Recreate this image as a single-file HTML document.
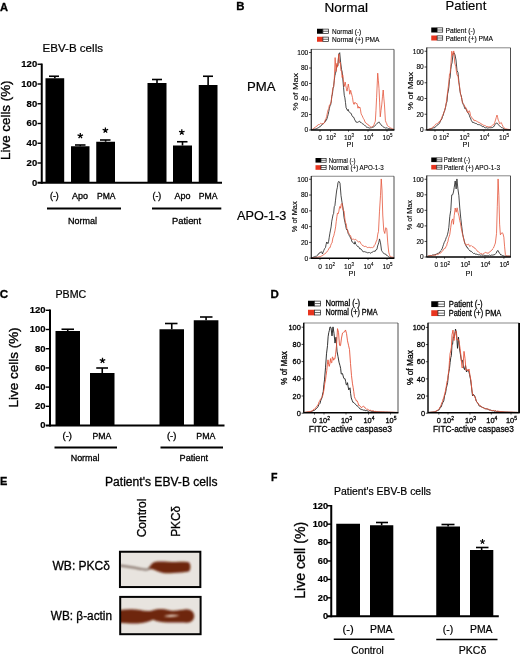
<!DOCTYPE html>
<html><head><meta charset="utf-8"><title>Figure</title>
<style>html,body{margin:0;padding:0;background:#fff;}svg{display:block;will-change:transform;}text{font-family:"Liberation Sans",sans-serif;}</style>
</head><body>
<svg width="520" height="656" viewBox="0 0 520 656">
<rect x="0" y="0" width="520" height="656" fill="#fff"/>
<text x="0" y="10.5" font-size="10.6" font-weight="bold" text-anchor="start" fill="#000" textLength="8" lengthAdjust="spacingAndGlyphs" stroke="#000" stroke-width="0.3">A</text>
<text x="236.2" y="10.2" font-size="11.4" font-weight="bold" text-anchor="start" fill="#000" stroke="#000" stroke-width="0.3">B</text>
<text x="-0.3" y="298" font-size="11.6" font-weight="bold" text-anchor="start" fill="#000" stroke="#000" stroke-width="0.3">C</text>
<text x="270.4" y="297.8" font-size="11.5" font-weight="bold" text-anchor="start" fill="#000" stroke="#000" stroke-width="0.3">D</text>
<text x="0" y="485" font-size="11" font-weight="bold" text-anchor="start" fill="#000" stroke="#000" stroke-width="0.3">E</text>
<text x="271" y="481.2" font-size="10.6" font-weight="bold" text-anchor="start" fill="#000" stroke="#000" stroke-width="0.3">F</text>
<text x="42.5" y="52" font-size="11.5" font-weight="normal" text-anchor="start" fill="#000" textLength="60.5" lengthAdjust="spacingAndGlyphs" stroke="#000" stroke-width="0.2">EBV-B cells</text>
<rect x="45.50" y="78.25" width="18.70" height="104.50" fill="#000"/>
<line x1="54.85" y1="76.25" x2="54.85" y2="78.25" stroke="#000" stroke-width="1.6"/>
<line x1="49.00" y1="76.25" x2="59.00" y2="76.25" stroke="#000" stroke-width="1.6"/>
<rect x="71.00" y="146.25" width="18.50" height="36.50" fill="#000"/>
<line x1="80.25" y1="145.00" x2="80.25" y2="146.25" stroke="#000" stroke-width="1.6"/>
<line x1="75.00" y1="145.00" x2="85.50" y2="145.00" stroke="#000" stroke-width="1.6"/>
<rect x="96.25" y="141.75" width="18.75" height="41.00" fill="#000"/>
<line x1="105.62" y1="140.00" x2="105.62" y2="141.75" stroke="#000" stroke-width="1.6"/>
<line x1="100.00" y1="140.00" x2="110.50" y2="140.00" stroke="#000" stroke-width="1.6"/>
<rect x="147.50" y="83.00" width="19.00" height="99.75" fill="#000"/>
<line x1="157.00" y1="79.50" x2="157.00" y2="83.00" stroke="#000" stroke-width="1.6"/>
<line x1="152.00" y1="79.50" x2="162.00" y2="79.50" stroke="#000" stroke-width="1.6"/>
<rect x="173.00" y="145.50" width="19.00" height="37.25" fill="#000"/>
<line x1="182.50" y1="141.75" x2="182.50" y2="145.50" stroke="#000" stroke-width="1.6"/>
<line x1="177.00" y1="141.75" x2="187.50" y2="141.75" stroke="#000" stroke-width="1.6"/>
<rect x="198.75" y="85.00" width="18.75" height="97.75" fill="#000"/>
<line x1="208.12" y1="76.25" x2="208.12" y2="85.00" stroke="#000" stroke-width="1.6"/>
<line x1="203.00" y1="76.25" x2="213.00" y2="76.25" stroke="#000" stroke-width="1.6"/>
<line x1="41.75" y1="63.55" x2="41.75" y2="183.75" stroke="#000" stroke-width="2"/>
<line x1="37.50" y1="182.75" x2="222.00" y2="182.75" stroke="#000" stroke-width="2"/>
<line x1="37.50" y1="163.00" x2="41.75" y2="163.00" stroke="#000" stroke-width="1.4"/>
<line x1="37.50" y1="143.25" x2="41.75" y2="143.25" stroke="#000" stroke-width="1.4"/>
<line x1="37.50" y1="123.50" x2="41.75" y2="123.50" stroke="#000" stroke-width="1.4"/>
<line x1="37.50" y1="103.75" x2="41.75" y2="103.75" stroke="#000" stroke-width="1.4"/>
<line x1="37.50" y1="84.00" x2="41.75" y2="84.00" stroke="#000" stroke-width="1.4"/>
<line x1="37.50" y1="64.25" x2="41.75" y2="64.25" stroke="#000" stroke-width="1.4"/>
<text x="37.2" y="185.67" font-size="9.5" font-weight="bold" text-anchor="end" fill="#000" stroke="#000" stroke-width="0.2">0</text>
<text x="37.2" y="165.92" font-size="9.5" font-weight="bold" text-anchor="end" fill="#000" stroke="#000" stroke-width="0.2">20</text>
<text x="37.2" y="146.17" font-size="9.5" font-weight="bold" text-anchor="end" fill="#000" stroke="#000" stroke-width="0.2">40</text>
<text x="37.2" y="126.42" font-size="9.5" font-weight="bold" text-anchor="end" fill="#000" stroke="#000" stroke-width="0.2">60</text>
<text x="37.2" y="106.67" font-size="9.5" font-weight="bold" text-anchor="end" fill="#000" stroke="#000" stroke-width="0.2">80</text>
<text x="37.2" y="86.92" font-size="9.5" font-weight="bold" text-anchor="end" fill="#000" stroke="#000" stroke-width="0.2">100</text>
<text x="37.2" y="67.17" font-size="9.5" font-weight="bold" text-anchor="end" fill="#000" stroke="#000" stroke-width="0.2">120</text>
<path d="M80.30 135.80L80.30 132.90M80.30 135.80L83.06 134.90M80.30 135.80L82.00 138.15M80.30 135.80L78.60 138.15M80.30 135.80L77.54 134.90" stroke="#000" stroke-width="1.25" fill="none"/>
<path d="M105.40 130.30L105.40 127.40M105.40 130.30L108.16 129.40M105.40 130.30L107.10 132.65M105.40 130.30L103.70 132.65M105.40 130.30L102.64 129.40" stroke="#000" stroke-width="1.25" fill="none"/>
<path d="M181.80 132.20L181.80 129.30M181.80 132.20L184.56 131.30M181.80 132.20L183.50 134.55M181.80 132.20L180.10 134.55M181.80 132.20L179.04 131.30" stroke="#000" stroke-width="1.25" fill="none"/>
<text x="10" y="120.2" font-size="13" font-weight="normal" text-anchor="middle" fill="#000" textLength="79.5" lengthAdjust="spacingAndGlyphs" transform="rotate(-90 10 120.2)" stroke="#000" stroke-width="0.35">Live cells (%)</text>
<text x="54.4" y="199.3" font-size="8.7" font-weight="normal" text-anchor="middle" fill="#000" textLength="8.8" lengthAdjust="spacingAndGlyphs" stroke="#000" stroke-width="0.3">(-)</text>
<text x="80" y="199.3" font-size="8.7" font-weight="normal" text-anchor="middle" fill="#000" textLength="16" lengthAdjust="spacingAndGlyphs" stroke="#000" stroke-width="0.3">Apo</text>
<text x="106.2" y="199.3" font-size="8.7" font-weight="normal" text-anchor="middle" fill="#000" textLength="18.5" lengthAdjust="spacingAndGlyphs" stroke="#000" stroke-width="0.3">PMA</text>
<text x="156.9" y="199.3" font-size="8.7" font-weight="normal" text-anchor="middle" fill="#000" textLength="8.8" lengthAdjust="spacingAndGlyphs" stroke="#000" stroke-width="0.3">(-)</text>
<text x="182.5" y="199.3" font-size="8.7" font-weight="normal" text-anchor="middle" fill="#000" textLength="16" lengthAdjust="spacingAndGlyphs" stroke="#000" stroke-width="0.3">Apo</text>
<text x="208.1" y="199.3" font-size="8.7" font-weight="normal" text-anchor="middle" fill="#000" textLength="18.7" lengthAdjust="spacingAndGlyphs" stroke="#000" stroke-width="0.3">PMA</text>
<line x1="47.00" y1="208.50" x2="121.00" y2="208.50" stroke="#000" stroke-width="2.2"/>
<line x1="152.00" y1="208.50" x2="221.30" y2="208.50" stroke="#000" stroke-width="2.2"/>
<text x="82.5" y="224" font-size="9.2" font-weight="normal" text-anchor="middle" fill="#000" textLength="29" lengthAdjust="spacingAndGlyphs" stroke="#000" stroke-width="0.3">Normal</text>
<text x="186.6" y="224" font-size="9.2" font-weight="normal" text-anchor="middle" fill="#000" textLength="29.2" lengthAdjust="spacingAndGlyphs" stroke="#000" stroke-width="0.3">Patient</text>
<text x="55.5" y="298.2" font-size="11" font-weight="normal" text-anchor="start" fill="#000" textLength="30.8" lengthAdjust="spacingAndGlyphs" stroke="#000" stroke-width="0.2">PBMC</text>
<rect x="55.50" y="331.00" width="24.50" height="94.50" fill="#000"/>
<line x1="67.75" y1="329.25" x2="67.75" y2="331.00" stroke="#000" stroke-width="1.6"/>
<line x1="61.50" y1="329.25" x2="74.00" y2="329.25" stroke="#000" stroke-width="1.6"/>
<rect x="90.00" y="373.00" width="24.50" height="52.50" fill="#000"/>
<line x1="102.25" y1="368.00" x2="102.25" y2="373.00" stroke="#000" stroke-width="1.6"/>
<line x1="96.25" y1="368.00" x2="108.00" y2="368.00" stroke="#000" stroke-width="1.6"/>
<rect x="159.50" y="329.25" width="24.50" height="96.25" fill="#000"/>
<line x1="171.75" y1="323.50" x2="171.75" y2="329.25" stroke="#000" stroke-width="1.6"/>
<line x1="165.00" y1="323.50" x2="177.50" y2="323.50" stroke="#000" stroke-width="1.6"/>
<rect x="193.75" y="320.25" width="24.65" height="105.25" fill="#000"/>
<line x1="206.07" y1="317.00" x2="206.07" y2="320.25" stroke="#000" stroke-width="1.6"/>
<line x1="200.00" y1="317.00" x2="212.50" y2="317.00" stroke="#000" stroke-width="1.6"/>
<line x1="50.00" y1="309.60" x2="50.00" y2="426.50" stroke="#000" stroke-width="2"/>
<line x1="45.80" y1="425.50" x2="224.50" y2="425.50" stroke="#000" stroke-width="2"/>
<line x1="45.80" y1="406.30" x2="50.00" y2="406.30" stroke="#000" stroke-width="1.4"/>
<line x1="45.80" y1="387.10" x2="50.00" y2="387.10" stroke="#000" stroke-width="1.4"/>
<line x1="45.80" y1="367.90" x2="50.00" y2="367.90" stroke="#000" stroke-width="1.4"/>
<line x1="45.80" y1="348.70" x2="50.00" y2="348.70" stroke="#000" stroke-width="1.4"/>
<line x1="45.80" y1="329.50" x2="50.00" y2="329.50" stroke="#000" stroke-width="1.4"/>
<line x1="45.80" y1="310.30" x2="50.00" y2="310.30" stroke="#000" stroke-width="1.4"/>
<text x="45.5" y="428.42" font-size="9.5" font-weight="bold" text-anchor="end" fill="#000" stroke="#000" stroke-width="0.2">0</text>
<text x="45.5" y="409.22" font-size="9.5" font-weight="bold" text-anchor="end" fill="#000" stroke="#000" stroke-width="0.2">20</text>
<text x="45.5" y="390.02000000000004" font-size="9.5" font-weight="bold" text-anchor="end" fill="#000" stroke="#000" stroke-width="0.2">40</text>
<text x="45.5" y="370.82" font-size="9.5" font-weight="bold" text-anchor="end" fill="#000" stroke="#000" stroke-width="0.2">60</text>
<text x="45.5" y="351.62" font-size="9.5" font-weight="bold" text-anchor="end" fill="#000" stroke="#000" stroke-width="0.2">80</text>
<text x="45.5" y="332.42" font-size="9.5" font-weight="bold" text-anchor="end" fill="#000" stroke="#000" stroke-width="0.2">100</text>
<text x="45.5" y="313.22" font-size="9.5" font-weight="bold" text-anchor="end" fill="#000" stroke="#000" stroke-width="0.2">120</text>
<path d="M102.50 360.60L102.50 357.70M102.50 360.60L105.26 359.70M102.50 360.60L104.20 362.95M102.50 360.60L100.80 362.95M102.50 360.60L99.74 359.70" stroke="#000" stroke-width="1.25" fill="none"/>
<text x="17.9" y="367.4" font-size="13" font-weight="normal" text-anchor="middle" fill="#000" textLength="80" lengthAdjust="spacingAndGlyphs" transform="rotate(-90 17.9 367.4)" stroke="#000" stroke-width="0.35">Live cells (%)</text>
<text x="67.3" y="438.6" font-size="9" font-weight="normal" text-anchor="middle" fill="#000" textLength="9.4" lengthAdjust="spacingAndGlyphs" stroke="#000" stroke-width="0.3">(-)</text>
<text x="101.9" y="438.6" font-size="9" font-weight="normal" text-anchor="middle" fill="#000" textLength="18.8" lengthAdjust="spacingAndGlyphs" stroke="#000" stroke-width="0.3">PMA</text>
<text x="171.6" y="438.6" font-size="9" font-weight="normal" text-anchor="middle" fill="#000" textLength="9.4" lengthAdjust="spacingAndGlyphs" stroke="#000" stroke-width="0.3">(-)</text>
<text x="205.9" y="438.6" font-size="9" font-weight="normal" text-anchor="middle" fill="#000" textLength="19.2" lengthAdjust="spacingAndGlyphs" stroke="#000" stroke-width="0.3">PMA</text>
<line x1="54.50" y1="447.50" x2="117.00" y2="447.50" stroke="#000" stroke-width="2.2"/>
<line x1="160.50" y1="447.50" x2="223.00" y2="447.50" stroke="#000" stroke-width="2.2"/>
<text x="85.1" y="461.3" font-size="9.2" font-weight="normal" text-anchor="middle" fill="#000" textLength="28.8" lengthAdjust="spacingAndGlyphs" stroke="#000" stroke-width="0.3">Normal</text>
<text x="193.8" y="461.3" font-size="9.2" font-weight="normal" text-anchor="middle" fill="#000" textLength="28.5" lengthAdjust="spacingAndGlyphs" stroke="#000" stroke-width="0.3">Patient</text>
<text x="324.5" y="12" font-size="13.5" font-weight="normal" text-anchor="start" fill="#000" textLength="43.5" lengthAdjust="spacingAndGlyphs" stroke="#000" stroke-width="0.2">Normal</text>
<text x="445.5" y="9.6" font-size="13.5" font-weight="normal" text-anchor="start" fill="#000" textLength="40.8" lengthAdjust="spacingAndGlyphs" stroke="#000" stroke-width="0.15">Patient</text>
<text x="247" y="91.3" font-size="13.2" font-weight="normal" text-anchor="start" fill="#000" textLength="28.5" lengthAdjust="spacingAndGlyphs" stroke="#000" stroke-width="0.2">PMA</text>
<text x="237" y="220.2" font-size="12.8" font-weight="normal" text-anchor="start" fill="#000" textLength="49.3" lengthAdjust="spacingAndGlyphs" stroke="#000" stroke-width="0.2">APO-1-3</text>
<rect x="317.00" y="28.75" width="5.90" height="5.00" fill="#000"/>
<rect x="322.90" y="29.10" width="5.55" height="4.30" fill="#fff" stroke="#1a1a1a" stroke-width="0.7"/>
<line x1="322.90" y1="31.25" x2="328.45" y2="31.25" stroke="#222" stroke-width="0.7"/>
<text x="332" y="33.85" font-size="7.4" font-weight="normal" text-anchor="start" fill="#000" textLength="29.3" lengthAdjust="spacingAndGlyphs" stroke="#000" stroke-width="0.12">Normal (-)</text>
<rect x="317.00" y="36.75" width="5.90" height="5.00" fill="#e8351f"/>
<rect x="322.90" y="37.10" width="5.55" height="4.30" fill="#fff" stroke="#1a1a1a" stroke-width="0.7"/>
<line x1="322.90" y1="39.25" x2="328.45" y2="39.25" stroke="#222" stroke-width="0.7"/>
<text x="332" y="41.85" font-size="7.4" font-weight="normal" text-anchor="start" fill="#000" textLength="47.5" lengthAdjust="spacingAndGlyphs" stroke="#000" stroke-width="0.12">Normal (+) PMA</text>
<clipPath id="c1"><rect x="311.25" y="48.4" width="82.75" height="82.1"/></clipPath>
<g clip-path="url(#c1)">
<polyline points="312.31,129.48 312.92,129.43 313.53,129.28 314.13,129.24 314.74,129.09 315.35,129.01 315.96,129.00 316.57,128.60 317.18,128.34 317.79,128.02 318.40,127.88 319.01,127.12 319.61,126.80 320.30,126.68 320.98,125.42 321.67,125.28 322.35,124.19 323.04,123.72 323.72,123.02 324.41,122.43 325.09,122.07 325.70,120.06 326.31,120.30 326.92,118.84 327.53,116.74 328.14,114.55 328.75,111.57 329.36,108.50 329.97,105.82 330.58,105.17 331.18,102.04 331.79,96.26 332.40,94.36 333.01,88.69 333.62,86.50 334.23,80.72 334.84,75.85 335.45,73.59 336.06,70.84 336.97,64.96 337.88,65.88 338.80,53.95 339.71,52.69 340.62,62.30 341.54,69.45 342.18,72.07 342.82,79.01 343.55,87.54 344.28,95.34 344.89,97.76 345.49,102.55 346.10,107.81 346.79,109.01 347.47,110.53 348.16,109.40 348.84,111.41 349.45,112.28 350.06,112.76 350.67,112.95 351.36,114.00 352.04,115.75 352.73,116.75 353.41,116.94 354.10,118.08 354.78,119.93 355.47,120.92 356.15,122.30 356.76,122.10 357.37,122.35 357.98,122.26 358.59,121.75 359.20,121.33 359.80,121.32 360.41,122.44 361.02,122.31 361.63,122.86 362.24,123.50 362.85,124.10 363.46,124.30 364.07,124.70 364.68,125.52 365.28,125.60 365.89,126.55 366.50,127.16 367.11,126.89 367.72,127.62 368.33,127.70 368.94,127.68 369.55,128.08 370.16,127.80 370.77,127.90 371.37,128.02 371.98,127.39 372.59,127.13 373.20,127.06 373.81,126.84 374.42,126.41 375.10,125.40 375.79,124.85 376.47,124.21 377.16,123.32 377.77,122.81 378.38,122.53 378.99,121.85 379.60,123.16 380.20,123.77 380.81,124.23 381.50,125.52 382.18,125.69 382.87,126.63 383.55,127.13 384.16,127.56 384.77,127.50 385.38,128.00 385.99,128.03 386.60,127.87 387.21,127.78 387.82,128.45 388.42,128.73 389.03,128.45 389.64,128.70 390.25,128.89 390.86,129.02 391.47,129.15 392.08,129.30 392.69,129.52 393.30,129.54 393.91,129.56 394.51,129.58 395.12,129.63 395.73,129.66 396.34,129.68" fill="none" stroke="#1c1c1c" stroke-width="0.8" stroke-linejoin="round"/>
<polyline points="312.31,129.49 312.92,129.01 313.53,128.50 314.13,127.83 314.74,127.91 315.35,127.07 315.96,126.41 316.57,126.32 317.18,125.90 317.79,124.93 318.47,124.62 319.16,124.71 319.84,124.03 320.53,123.36 321.21,123.67 321.90,124.02 322.58,123.72 323.27,124.05 323.95,123.04 324.64,122.26 325.32,119.71 326.01,118.56 326.69,116.33 327.38,112.78 328.06,109.93 328.75,108.69 329.36,105.17 329.97,105.27 330.58,103.11 331.18,101.94 331.79,96.70 332.40,91.74 333.01,87.66 333.62,86.77 334.23,80.91 335.14,57.60 336.06,71.49 336.79,63.40 337.52,67.18 338.16,60.07 338.80,53.98 339.71,63.13 340.32,62.27 340.93,70.88 341.54,71.02 342.15,77.47 342.75,74.92 343.36,79.56 344.28,86.48 345.19,82.09 345.80,85.77 346.41,88.53 347.02,91.13 347.66,87.52 348.30,84.03 349.03,88.23 349.76,94.26 350.67,90.29 351.28,92.91 351.89,95.08 352.50,97.66 353.11,101.94 353.72,104.15 354.32,104.24 354.93,102.20 355.54,102.82 356.15,103.77 356.76,103.31 357.37,104.87 357.98,108.21 358.59,106.53 359.20,108.02 359.80,107.00 360.41,109.18 361.02,113.29 361.63,114.96 362.24,115.81 362.85,117.33 363.46,118.59 364.07,119.47 364.68,121.00 365.28,122.52 365.97,122.75 366.66,123.81 367.34,123.89 368.03,124.96 368.71,125.11 369.40,126.05 370.08,126.36 370.77,126.99 371.45,127.12 372.14,126.66 372.82,126.41 373.51,125.95 374.11,124.35 374.72,122.68 375.33,121.22 375.97,110.31 376.61,97.28 377.71,73.16 378.35,80.19 378.99,88.37 379.63,102.13 380.26,116.85 381.00,110.42 381.73,104.95 382.46,96.78 383.19,90.01 383.83,98.18 384.47,104.95 385.38,120.38 385.99,122.27 386.60,123.31 387.21,125.40 387.89,126.01 388.58,126.55 389.26,126.99 389.95,127.52 390.63,127.95 391.32,128.21 392.00,128.69 392.69,128.89 393.30,129.03 393.91,129.22 394.51,129.28 395.12,129.42 395.73,129.57 396.34,129.68" fill="none" stroke="#e5543a" stroke-width="0.8" stroke-linejoin="round"/>
</g>
<line x1="311.25" y1="49.40" x2="394.00" y2="49.40" stroke="#555" stroke-width="0.7"/>
<line x1="394.00" y1="49.40" x2="394.00" y2="130.00" stroke="#222" stroke-width="0.8"/>
<line x1="311.25" y1="49.10" x2="311.25" y2="130.00" stroke="#111" stroke-width="1.1"/>
<line x1="310.85" y1="130.00" x2="394.40" y2="130.00" stroke="#000" stroke-width="1.5"/>
<line x1="309.05" y1="130.00" x2="311.25" y2="130.00" stroke="#000" stroke-width="0.7"/>
<text x="308.25" y="132.376" font-size="6.6" font-weight="normal" text-anchor="end" fill="#000" stroke="#000" stroke-width="0.12">0</text>
<line x1="309.05" y1="114.50" x2="311.25" y2="114.50" stroke="#000" stroke-width="0.7"/>
<text x="308.25" y="116.876" font-size="6.6" font-weight="normal" text-anchor="end" fill="#000" stroke="#000" stroke-width="0.12">20</text>
<line x1="309.05" y1="99.00" x2="311.25" y2="99.00" stroke="#000" stroke-width="0.7"/>
<text x="308.25" y="101.376" font-size="6.6" font-weight="normal" text-anchor="end" fill="#000" stroke="#000" stroke-width="0.12">40</text>
<line x1="309.05" y1="83.50" x2="311.25" y2="83.50" stroke="#000" stroke-width="0.7"/>
<text x="308.25" y="85.876" font-size="6.6" font-weight="normal" text-anchor="end" fill="#000" stroke="#000" stroke-width="0.12">60</text>
<line x1="309.05" y1="68.00" x2="311.25" y2="68.00" stroke="#000" stroke-width="0.7"/>
<text x="308.25" y="70.376" font-size="6.6" font-weight="normal" text-anchor="end" fill="#000" stroke="#000" stroke-width="0.12">80</text>
<line x1="309.05" y1="52.50" x2="311.25" y2="52.50" stroke="#000" stroke-width="0.7"/>
<text x="308.25" y="54.876" font-size="6.6" font-weight="normal" text-anchor="end" fill="#000" stroke="#000" stroke-width="0.12">100</text>
<text x="297.5" y="91.75" font-size="7.6" font-weight="normal" text-anchor="middle" fill="#000" textLength="37.5" lengthAdjust="spacingAndGlyphs" transform="rotate(-90 297.5 91.75)" stroke="#000" stroke-width="0.12">% of Max</text>
<text x="320" y="140" font-size="6.6" font-weight="normal" text-anchor="middle" fill="#000" stroke="#000" stroke-width="0.12">0</text>
<line x1="320.00" y1="130.00" x2="320.00" y2="131.80" stroke="#000" stroke-width="0.6"/>
<text x="331" y="140" font-size="6.6" text-anchor="middle" stroke="#000" stroke-width="0.12">10<tspan dy="-2.51" font-size="4.49">2</tspan></text>
<line x1="330.50" y1="130.00" x2="330.50" y2="131.80" stroke="#000" stroke-width="0.6"/>
<text x="349" y="140" font-size="6.6" text-anchor="middle" stroke="#000" stroke-width="0.12">10<tspan dy="-2.51" font-size="4.49">3</tspan></text>
<line x1="348.50" y1="130.00" x2="348.50" y2="131.80" stroke="#000" stroke-width="0.6"/>
<text x="368.5" y="140" font-size="6.6" text-anchor="middle" stroke="#000" stroke-width="0.12">10<tspan dy="-2.51" font-size="4.49">4</tspan></text>
<line x1="368.00" y1="130.00" x2="368.00" y2="131.80" stroke="#000" stroke-width="0.6"/>
<text x="387.5" y="140" font-size="6.6" text-anchor="middle" stroke="#000" stroke-width="0.12">10<tspan dy="-2.51" font-size="4.49">5</tspan></text>
<line x1="387.00" y1="130.00" x2="387.00" y2="131.80" stroke="#000" stroke-width="0.6"/>
<text x="350" y="147.2" font-size="7.6" font-weight="normal" text-anchor="middle" fill="#000" textLength="6.8" lengthAdjust="spacingAndGlyphs" stroke="#000" stroke-width="0.12">PI</text>
<rect x="431.25" y="27.50" width="5.90" height="5.00" fill="#000"/>
<rect x="437.15" y="27.85" width="5.55" height="4.30" fill="#fff" stroke="#1a1a1a" stroke-width="0.7"/>
<line x1="437.15" y1="30.00" x2="442.70" y2="30.00" stroke="#222" stroke-width="0.7"/>
<text x="445.5" y="32.6" font-size="7.4" font-weight="normal" text-anchor="start" fill="#000" textLength="29.5" lengthAdjust="spacingAndGlyphs" stroke="#000" stroke-width="0.12">Patient (-)</text>
<rect x="431.25" y="35.50" width="5.90" height="5.00" fill="#e8351f"/>
<rect x="437.15" y="35.85" width="5.55" height="4.30" fill="#fff" stroke="#1a1a1a" stroke-width="0.7"/>
<line x1="437.15" y1="38.00" x2="442.70" y2="38.00" stroke="#222" stroke-width="0.7"/>
<text x="445.5" y="40.6" font-size="7.4" font-weight="normal" text-anchor="start" fill="#000" textLength="47.5" lengthAdjust="spacingAndGlyphs" stroke="#000" stroke-width="0.12">Patient (+) PMA</text>
<clipPath id="c2"><rect x="426.75" y="46.8" width="83.75" height="83.7"/></clipPath>
<g clip-path="url(#c2)">
<polyline points="426.75,129.80 427.40,129.74 428.05,129.51 428.70,129.22 429.35,129.05 430.00,128.68 430.62,128.68 431.25,128.53 431.88,128.79 432.50,128.09 433.12,128.01 433.75,127.76 434.38,127.92 435.00,127.03 435.62,126.85 436.25,126.11 436.88,125.29 437.50,124.94 438.12,124.72 438.75,123.78 439.38,123.45 440.00,122.18 440.62,120.21 441.25,119.95 441.88,118.83 442.50,116.56 443.12,115.66 443.75,112.75 444.62,110.80 445.50,107.57 446.25,103.53 447.00,101.38 447.62,93.85 448.25,91.30 448.88,86.89 449.50,79.38 450.12,77.67 450.75,69.56 451.38,64.86 452.00,62.92 453.00,54.41 454.00,52.81 455.00,54.86 456.00,59.99 457.00,70.46 458.00,72.59 459.00,82.84 460.00,91.29 460.62,94.35 461.25,95.67 461.88,99.55 462.50,102.03 463.12,104.24 463.75,105.13 464.38,107.30 465.00,108.75 465.62,107.73 466.25,109.59 466.88,111.04 467.50,112.36 468.12,113.10 468.75,113.95 469.38,115.41 470.00,117.67 470.62,117.97 471.25,120.56 471.88,121.11 472.50,122.45 473.12,122.68 473.75,122.32 474.38,123.09 475.00,123.27 475.62,123.44 476.25,123.48 476.88,123.82 477.50,124.57 478.12,124.52 478.75,124.68 479.38,124.70 480.00,124.74 480.62,125.30 481.25,125.60 481.88,125.95 482.50,126.74 483.12,126.56 483.75,126.54 484.38,127.47 485.00,127.67 485.62,127.83 486.25,127.67 486.88,127.80 487.50,128.06 488.12,128.19 488.75,127.70 489.38,127.69 490.00,127.76 490.62,127.75 491.25,127.69 491.88,127.56 492.50,127.56 493.12,126.80 493.75,126.76 494.38,125.82 495.00,124.62 495.62,123.79 496.25,122.99 496.88,123.18 497.50,123.39 498.12,124.55 498.75,125.15 499.38,125.67 500.00,126.12 500.62,126.82 501.25,127.45 501.88,127.60 502.50,127.74 503.12,128.43 503.75,128.77 504.38,129.14 505.00,129.51 505.64,129.54 506.27,129.61 506.91,129.63 507.55,129.67 508.18,129.74 508.82,129.78 509.45,129.80 510.09,129.80 510.73,129.80 511.36,129.80 512.00,130.00" fill="none" stroke="#1c1c1c" stroke-width="0.8" stroke-linejoin="round"/>
<polyline points="426.75,129.80 427.39,129.80 428.04,129.64 428.68,129.46 429.32,129.28 429.96,129.12 430.61,128.90 431.25,128.77 431.88,127.89 432.50,127.20 433.12,126.83 433.75,126.69 434.38,125.78 435.00,125.29 435.62,124.27 436.25,124.11 436.88,123.43 437.50,123.36 438.12,122.74 438.75,122.93 439.38,121.24 440.00,121.70 440.62,120.58 441.25,118.95 441.88,117.46 442.50,115.47 443.12,114.30 443.75,113.15 444.62,110.31 445.50,106.99 446.25,102.84 447.00,96.86 447.62,91.97 448.25,86.92 448.88,82.03 449.50,73.92 450.12,73.19 450.75,66.33 451.75,51.19 452.75,55.30 453.75,50.95 454.75,62.95 455.75,66.64 456.75,73.94 457.38,75.67 458.00,75.30 458.62,82.30 459.25,84.10 459.88,89.19 460.50,93.77 461.12,96.41 461.75,98.24 462.38,102.69 463.00,103.48 463.62,104.16 464.25,104.96 464.88,106.95 465.50,107.12 466.12,109.58 466.75,109.17 467.38,111.82 468.00,112.99 468.62,111.39 469.25,110.70 469.88,112.13 470.50,115.68 471.12,116.27 471.75,117.52 472.42,118.33 473.08,118.76 473.75,120.34 474.38,120.09 475.00,121.10 475.62,120.38 476.25,121.08 476.88,121.40 477.50,121.60 478.12,122.47 478.75,122.20 479.38,122.60 480.00,123.10 480.62,123.28 481.25,124.20 481.88,123.88 482.50,124.84 483.12,124.88 483.75,125.42 484.38,125.40 485.00,125.78 485.62,125.87 486.25,126.34 486.88,126.76 487.50,126.02 488.12,126.95 488.75,127.15 489.38,126.79 490.00,126.98 490.62,126.49 491.25,126.32 491.88,125.82 492.50,125.23 493.12,124.79 493.75,124.93 494.62,122.92 495.50,120.09 496.25,117.49 497.00,115.09 497.62,117.38 498.25,120.18 498.88,121.23 499.50,123.78 500.38,123.26 501.25,122.52 502.12,124.56 503.00,126.41 503.67,127.14 504.33,128.22 505.00,128.70 505.64,128.81 506.27,128.93 506.91,129.08 507.55,129.24 508.18,129.31 508.82,129.46 509.45,129.53 510.09,129.68 510.73,129.76 511.36,129.80 512.00,130.00" fill="none" stroke="#e5543a" stroke-width="0.8" stroke-linejoin="round"/>
</g>
<line x1="426.75" y1="47.80" x2="510.50" y2="47.80" stroke="#555" stroke-width="0.7"/>
<line x1="510.50" y1="47.80" x2="510.50" y2="130.00" stroke="#222" stroke-width="0.8"/>
<line x1="426.75" y1="47.50" x2="426.75" y2="130.00" stroke="#111" stroke-width="1.1"/>
<line x1="426.35" y1="130.00" x2="510.90" y2="130.00" stroke="#000" stroke-width="1.5"/>
<line x1="424.55" y1="130.00" x2="426.75" y2="130.00" stroke="#000" stroke-width="0.7"/>
<text x="423.75" y="132.376" font-size="6.6" font-weight="normal" text-anchor="end" fill="#000" stroke="#000" stroke-width="0.12">0</text>
<line x1="424.55" y1="114.25" x2="426.75" y2="114.25" stroke="#000" stroke-width="0.7"/>
<text x="423.75" y="116.626" font-size="6.6" font-weight="normal" text-anchor="end" fill="#000" stroke="#000" stroke-width="0.12">20</text>
<line x1="424.55" y1="98.50" x2="426.75" y2="98.50" stroke="#000" stroke-width="0.7"/>
<text x="423.75" y="100.876" font-size="6.6" font-weight="normal" text-anchor="end" fill="#000" stroke="#000" stroke-width="0.12">40</text>
<line x1="424.55" y1="82.75" x2="426.75" y2="82.75" stroke="#000" stroke-width="0.7"/>
<text x="423.75" y="85.126" font-size="6.6" font-weight="normal" text-anchor="end" fill="#000" stroke="#000" stroke-width="0.12">60</text>
<line x1="424.55" y1="67.00" x2="426.75" y2="67.00" stroke="#000" stroke-width="0.7"/>
<text x="423.75" y="69.376" font-size="6.6" font-weight="normal" text-anchor="end" fill="#000" stroke="#000" stroke-width="0.12">80</text>
<line x1="424.55" y1="51.25" x2="426.75" y2="51.25" stroke="#000" stroke-width="0.7"/>
<text x="423.75" y="53.626" font-size="6.6" font-weight="normal" text-anchor="end" fill="#000" stroke="#000" stroke-width="0.12">100</text>
<text x="412.5" y="91.125" font-size="7.6" font-weight="normal" text-anchor="middle" fill="#000" textLength="38.5" lengthAdjust="spacingAndGlyphs" transform="rotate(-90 412.5 91.125)" stroke="#000" stroke-width="0.12">% of Max</text>
<text x="435" y="140" font-size="6.6" font-weight="normal" text-anchor="middle" fill="#000" stroke="#000" stroke-width="0.12">0</text>
<line x1="435.00" y1="130.00" x2="435.00" y2="131.80" stroke="#000" stroke-width="0.6"/>
<text x="444" y="140" font-size="6.6" text-anchor="middle" stroke="#000" stroke-width="0.12">10<tspan dy="-2.51" font-size="4.49">2</tspan></text>
<line x1="443.50" y1="130.00" x2="443.50" y2="131.80" stroke="#000" stroke-width="0.6"/>
<text x="464.5" y="140" font-size="6.6" text-anchor="middle" stroke="#000" stroke-width="0.12">10<tspan dy="-2.51" font-size="4.49">3</tspan></text>
<line x1="464.00" y1="130.00" x2="464.00" y2="131.80" stroke="#000" stroke-width="0.6"/>
<text x="484.5" y="140" font-size="6.6" text-anchor="middle" stroke="#000" stroke-width="0.12">10<tspan dy="-2.51" font-size="4.49">4</tspan></text>
<line x1="484.00" y1="130.00" x2="484.00" y2="131.80" stroke="#000" stroke-width="0.6"/>
<text x="504" y="140" font-size="6.6" text-anchor="middle" stroke="#000" stroke-width="0.12">10<tspan dy="-2.51" font-size="4.49">5</tspan></text>
<line x1="503.50" y1="130.00" x2="503.50" y2="131.80" stroke="#000" stroke-width="0.6"/>
<text x="466" y="147.2" font-size="7.6" font-weight="normal" text-anchor="middle" fill="#000" textLength="6.8" lengthAdjust="spacingAndGlyphs" stroke="#000" stroke-width="0.12">PI</text>
<rect x="315.50" y="158.00" width="5.50" height="4.60" fill="#000"/>
<rect x="321.00" y="158.35" width="5.15" height="3.90" fill="#fff" stroke="#1a1a1a" stroke-width="0.7"/>
<line x1="321.00" y1="160.30" x2="326.15" y2="160.30" stroke="#222" stroke-width="0.7"/>
<text x="328.75" y="162.7" font-size="7.2" font-weight="normal" text-anchor="start" fill="#000" textLength="26.8" lengthAdjust="spacingAndGlyphs" stroke="#000" stroke-width="0.12">Normal (-)</text>
<rect x="315.50" y="165.20" width="5.50" height="4.60" fill="#e8351f"/>
<rect x="321.00" y="165.55" width="5.15" height="3.90" fill="#fff" stroke="#1a1a1a" stroke-width="0.7"/>
<line x1="321.00" y1="167.50" x2="326.15" y2="167.50" stroke="#222" stroke-width="0.7"/>
<text x="328.75" y="169.89999999999998" font-size="7.2" font-weight="normal" text-anchor="start" fill="#000" textLength="55" lengthAdjust="spacingAndGlyphs" stroke="#000" stroke-width="0.12">Normal (+) APO-1-3</text>
<clipPath id="c3"><rect x="311.25" y="175.25" width="82.75" height="83.44999999999999"/></clipPath>
<g clip-path="url(#c3)">
<polyline points="311.25,258.00 311.88,257.93 312.50,257.59 313.12,257.36 313.75,256.96 314.38,256.75 315.00,256.54 315.62,256.33 316.25,256.22 316.88,255.96 317.50,255.36 318.12,254.15 318.75,254.00 319.38,252.80 320.00,252.78 320.62,252.37 321.25,251.65 321.88,252.70 322.50,253.95 323.12,251.94 323.75,250.52 324.62,248.61 325.50,247.48 326.12,244.37 326.75,241.99 327.38,243.15 328.00,243.72 328.62,241.30 329.25,237.27 329.88,233.27 330.50,230.09 331.12,226.88 331.75,221.23 332.38,218.08 333.00,214.84 333.62,213.59 334.25,206.66 334.88,205.89 335.50,200.19 336.12,194.98 336.75,189.94 337.38,187.36 338.00,182.29 339.00,181.35 340.00,183.25 341.00,195.52 342.00,202.22 343.00,207.69 344.00,217.51 345.00,222.55 345.62,225.42 346.25,228.68 346.88,230.03 347.50,229.82 348.12,233.38 348.75,234.30 349.38,235.93 350.00,236.78 350.62,238.17 351.25,239.26 351.88,241.71 352.50,241.83 353.12,242.87 353.75,243.67 354.38,244.06 355.00,241.62 355.62,243.98 356.25,244.56 356.88,245.64 357.50,246.51 358.12,246.37 358.75,246.92 359.38,248.07 360.00,249.26 360.62,248.68 361.25,249.28 361.88,250.03 362.50,251.11 363.12,251.88 363.75,251.69 364.38,251.58 365.00,252.15 365.62,251.99 366.25,252.27 366.88,252.38 367.50,252.78 368.12,252.78 368.75,252.54 369.38,252.51 370.00,253.20 370.62,253.09 371.25,252.58 371.88,252.45 372.50,252.10 373.12,251.71 373.75,251.07 374.38,251.16 375.00,251.59 375.67,250.16 376.33,250.00 377.00,248.97 377.62,245.94 378.25,244.26 378.88,242.18 379.50,238.91 380.50,242.82 381.50,250.31 382.25,251.51 383.00,252.72 383.67,253.33 384.33,253.76 385.00,253.70 385.62,254.10 386.25,255.14 386.88,255.23 387.50,255.93 388.12,256.44 388.75,256.83 389.38,257.18 390.00,257.49 390.62,257.55 391.25,257.64 391.88,257.68 392.50,257.75 393.12,257.83 393.75,257.89 394.38,257.93 395.00,258.00" fill="none" stroke="#1c1c1c" stroke-width="0.8" stroke-linejoin="round"/>
<polyline points="311.25,258.00 311.88,258.00 312.50,258.00 313.12,257.96 313.75,257.88 314.38,257.78 315.00,257.69 315.62,257.57 316.25,257.48 316.88,257.34 317.50,257.16 318.12,257.03 318.75,256.81 319.38,256.65 320.00,256.55 320.62,256.57 321.25,255.91 321.88,255.97 322.50,255.55 323.12,255.07 323.75,254.59 324.38,254.31 325.00,253.37 325.62,253.26 326.25,252.52 326.88,251.75 327.50,250.88 328.12,250.37 328.75,248.72 329.38,247.79 330.00,247.81 330.67,245.51 331.33,243.70 332.00,243.01 332.88,237.96 333.75,235.87 334.38,233.25 335.00,230.43 335.62,226.89 336.25,221.53 336.88,216.76 337.50,212.95 338.12,213.77 338.75,211.93 339.38,208.06 340.00,206.35 340.62,208.28 341.25,204.20 342.00,203.33 343.00,210.23 344.00,210.79 345.00,219.89 345.62,222.89 346.25,224.04 346.88,228.82 347.50,229.79 348.12,232.46 348.75,232.97 349.38,234.50 350.00,235.17 350.62,235.69 351.25,238.16 351.88,239.09 352.50,239.31 353.12,239.07 353.75,239.29 354.38,239.78 355.00,239.66 355.62,239.25 356.25,239.91 356.88,240.70 357.50,241.22 358.12,241.49 358.75,242.11 359.38,241.64 360.00,241.57 360.62,243.20 361.25,244.08 361.88,244.73 362.50,245.50 363.12,245.38 363.75,246.37 364.38,246.55 365.00,246.24 365.62,246.23 366.25,246.95 366.88,246.92 367.50,247.63 368.12,247.64 368.75,247.31 369.38,247.21 370.00,247.98 370.62,247.61 371.25,247.44 371.88,247.66 372.50,247.75 373.12,247.14 373.75,246.98 374.38,245.21 375.00,244.58 375.67,242.99 376.33,241.09 377.00,239.92 377.75,234.18 378.50,231.40 379.50,211.17 380.50,195.25 381.25,178.95 382.00,190.05 382.75,215.00 383.75,230.41 384.75,233.48 385.75,227.69 386.75,228.58 387.75,242.91 388.75,252.33 389.38,254.45 390.00,256.28 390.62,256.55 391.25,257.03 391.88,256.88 392.50,257.17 393.12,257.39 393.75,257.60 394.38,257.76 395.00,258.00" fill="none" stroke="#e5543a" stroke-width="0.8" stroke-linejoin="round"/>
</g>
<line x1="311.25" y1="176.25" x2="394.00" y2="176.25" stroke="#555" stroke-width="0.7"/>
<line x1="394.00" y1="176.25" x2="394.00" y2="258.20" stroke="#222" stroke-width="0.8"/>
<line x1="311.25" y1="175.95" x2="311.25" y2="258.20" stroke="#111" stroke-width="1.1"/>
<line x1="310.85" y1="258.20" x2="394.40" y2="258.20" stroke="#000" stroke-width="1.5"/>
<line x1="309.05" y1="258.20" x2="311.25" y2="258.20" stroke="#000" stroke-width="0.7"/>
<text x="308.25" y="260.57599999999996" font-size="6.6" font-weight="normal" text-anchor="end" fill="#000" stroke="#000" stroke-width="0.12">0</text>
<line x1="309.05" y1="242.41" x2="311.25" y2="242.41" stroke="#000" stroke-width="0.7"/>
<text x="308.25" y="244.786" font-size="6.6" font-weight="normal" text-anchor="end" fill="#000" stroke="#000" stroke-width="0.12">20</text>
<line x1="309.05" y1="226.62" x2="311.25" y2="226.62" stroke="#000" stroke-width="0.7"/>
<text x="308.25" y="228.996" font-size="6.6" font-weight="normal" text-anchor="end" fill="#000" stroke="#000" stroke-width="0.12">40</text>
<line x1="309.05" y1="210.83" x2="311.25" y2="210.83" stroke="#000" stroke-width="0.7"/>
<text x="308.25" y="213.206" font-size="6.6" font-weight="normal" text-anchor="end" fill="#000" stroke="#000" stroke-width="0.12">60</text>
<line x1="309.05" y1="195.04" x2="311.25" y2="195.04" stroke="#000" stroke-width="0.7"/>
<text x="308.25" y="197.416" font-size="6.6" font-weight="normal" text-anchor="end" fill="#000" stroke="#000" stroke-width="0.12">80</text>
<line x1="309.05" y1="179.25" x2="311.25" y2="179.25" stroke="#000" stroke-width="0.7"/>
<text x="308.25" y="181.626" font-size="6.6" font-weight="normal" text-anchor="end" fill="#000" stroke="#000" stroke-width="0.12">100</text>
<text x="297.5" y="216.8" font-size="7.2" font-weight="normal" text-anchor="middle" fill="#000" textLength="31" lengthAdjust="spacingAndGlyphs" transform="rotate(-90 297.5 216.8)" stroke="#000" stroke-width="0.12">% of Max</text>
<text x="320" y="268.6" font-size="6.6" font-weight="normal" text-anchor="middle" fill="#000" stroke="#000" stroke-width="0.12">0</text>
<line x1="320.00" y1="258.20" x2="320.00" y2="260.00" stroke="#000" stroke-width="0.6"/>
<text x="330" y="268.6" font-size="6.6" text-anchor="middle" stroke="#000" stroke-width="0.12">10<tspan dy="-2.51" font-size="4.49">2</tspan></text>
<line x1="329.50" y1="258.20" x2="329.50" y2="260.00" stroke="#000" stroke-width="0.6"/>
<text x="349" y="268.6" font-size="6.6" text-anchor="middle" stroke="#000" stroke-width="0.12">10<tspan dy="-2.51" font-size="4.49">3</tspan></text>
<line x1="348.50" y1="258.20" x2="348.50" y2="260.00" stroke="#000" stroke-width="0.6"/>
<text x="368.5" y="268.6" font-size="6.6" text-anchor="middle" stroke="#000" stroke-width="0.12">10<tspan dy="-2.51" font-size="4.49">4</tspan></text>
<line x1="368.00" y1="258.20" x2="368.00" y2="260.00" stroke="#000" stroke-width="0.6"/>
<text x="387.5" y="268.6" font-size="6.6" text-anchor="middle" stroke="#000" stroke-width="0.12">10<tspan dy="-2.51" font-size="4.49">5</tspan></text>
<line x1="387.00" y1="258.20" x2="387.00" y2="260.00" stroke="#000" stroke-width="0.6"/>
<text x="352" y="276.3" font-size="7.6" font-weight="normal" text-anchor="middle" fill="#000" textLength="6.8" lengthAdjust="spacingAndGlyphs" stroke="#000" stroke-width="0.12">PI</text>
<rect x="431.25" y="157.50" width="5.50" height="4.60" fill="#000"/>
<rect x="436.75" y="157.85" width="5.15" height="3.90" fill="#fff" stroke="#1a1a1a" stroke-width="0.7"/>
<line x1="436.75" y1="159.80" x2="441.90" y2="159.80" stroke="#222" stroke-width="0.7"/>
<text x="443.75" y="162.2" font-size="7.2" font-weight="normal" text-anchor="start" fill="#000" textLength="26.3" lengthAdjust="spacingAndGlyphs" stroke="#000" stroke-width="0.12">Patient (-)</text>
<rect x="431.25" y="164.90" width="5.50" height="4.60" fill="#e8351f"/>
<rect x="436.75" y="165.25" width="5.15" height="3.90" fill="#fff" stroke="#1a1a1a" stroke-width="0.7"/>
<line x1="436.75" y1="167.20" x2="441.90" y2="167.20" stroke="#222" stroke-width="0.7"/>
<text x="443.75" y="169.6" font-size="7.2" font-weight="normal" text-anchor="start" fill="#000" textLength="56.2" lengthAdjust="spacingAndGlyphs" stroke="#000" stroke-width="0.12">Patient (+) APO-1-3</text>
<clipPath id="c4"><rect x="426.75" y="174.8" width="83.75" height="82.69999999999999"/></clipPath>
<g clip-path="url(#c4)">
<polyline points="427.69,256.16 428.33,256.01 428.97,255.94 429.62,255.74 430.26,255.64 430.90,255.49 431.54,255.70 432.18,255.14 432.82,254.97 433.46,254.99 434.10,254.84 434.74,254.76 435.38,254.48 436.03,254.47 436.67,253.78 437.31,253.58 437.95,253.14 438.59,253.17 439.23,252.88 439.95,251.94 440.67,250.80 441.39,250.10 442.12,248.79 442.84,246.52 443.56,244.43 444.28,242.35 445.00,241.11 445.64,239.47 446.28,237.53 446.92,236.42 447.56,234.23 448.21,231.42 448.85,227.31 449.81,216.33 450.77,210.40 451.73,194.91 452.69,194.74 453.46,192.02 454.23,187.45 455.19,180.97 456.15,188.93 456.92,178.95 457.88,188.66 458.85,195.61 459.81,208.20 460.77,218.19 461.73,226.39 462.69,234.20 463.46,237.86 464.23,240.59 464.87,243.54 465.51,244.73 466.15,245.92 466.79,247.33 467.44,247.31 468.08,248.93 468.72,249.43 469.36,249.99 470.00,251.05 470.72,251.27 471.44,251.42 472.16,252.30 472.88,252.81 473.61,253.55 474.33,253.24 475.05,254.05 475.77,254.24 476.41,254.17 477.05,254.45 477.69,254.53 478.33,254.84 478.97,254.55 479.62,254.83 480.26,255.12 480.90,255.30 481.54,254.94 482.18,254.99 482.82,255.52 483.46,255.14 484.10,255.30 484.74,255.49 485.38,255.56 486.03,255.50 486.67,255.68 487.31,255.83 487.95,255.16 488.59,255.66 489.23,255.17 489.87,255.05 490.51,255.49 491.15,255.28 491.79,255.00 492.44,255.13 493.08,255.17 493.72,254.77 494.36,254.66 495.00,254.46 495.64,253.62 496.28,253.10 496.92,251.20 498.08,250.51 499.23,252.96 500.00,253.54 500.77,255.01 501.41,254.91 502.05,255.27 502.69,255.61 503.33,255.74 503.97,255.94 504.62,256.19 505.26,256.13 505.90,256.15 506.54,256.19 507.18,256.18 507.82,256.17 508.46,256.13 509.10,256.17 509.74,256.15 510.38,256.15" fill="none" stroke="#1c1c1c" stroke-width="0.8" stroke-linejoin="round"/>
<polyline points="427.69,256.16 428.33,256.04 428.97,255.91 429.62,255.88 430.26,255.73 430.90,255.64 431.54,255.56 432.18,255.85 432.82,255.72 433.46,255.20 434.10,254.87 434.74,255.24 435.38,255.42 436.03,254.84 436.67,254.10 437.31,254.54 437.95,254.23 438.59,254.04 439.23,253.53 439.95,253.04 440.67,253.11 441.39,251.79 442.12,251.45 442.76,250.89 443.40,249.87 444.04,248.65 444.68,248.35 445.32,248.25 445.96,246.64 446.60,245.89 447.24,243.03 447.88,241.74 448.53,238.23 449.17,236.56 449.81,234.32 450.77,227.24 451.73,220.73 452.69,218.92 453.46,224.29 454.23,215.70 455.19,208.04 456.15,212.20 457.12,207.80 458.08,212.78 459.04,216.16 459.71,220.50 460.38,222.92 461.15,227.69 461.92,231.44 462.60,234.44 463.27,236.84 463.94,240.32 464.62,242.52 465.38,243.78 466.15,245.41 466.79,244.39 467.44,244.61 468.08,244.13 468.85,244.48 469.62,246.45 470.38,245.99 471.15,245.43 472.02,246.34 472.88,246.86 473.65,246.97 474.42,248.20 475.29,248.38 476.15,249.52 476.92,250.73 477.69,251.23 478.46,252.01 479.23,252.53 480.00,253.29 480.62,253.63 481.25,253.52 481.88,253.73 482.50,254.29 483.22,253.63 483.94,253.51 484.66,253.06 485.38,252.29 486.11,252.60 486.83,252.92 487.55,253.11 488.27,253.41 488.91,252.29 489.55,252.14 490.19,251.42 490.83,251.08 491.47,250.40 492.12,250.02 492.76,248.67 493.40,248.05 494.04,246.58 494.71,244.81 495.38,243.00 496.54,233.39 497.31,206.29 498.08,178.95 498.85,195.41 499.62,224.16 500.38,234.80 501.54,233.11 502.31,232.66 503.08,234.01 503.85,237.28 504.62,246.80 505.38,254.60 506.54,256.13 507.18,256.12 507.82,256.12 508.46,256.11 509.10,256.17 509.74,256.15 510.38,256.15" fill="none" stroke="#e5543a" stroke-width="0.8" stroke-linejoin="round"/>
</g>
<line x1="426.75" y1="175.80" x2="510.50" y2="175.80" stroke="#555" stroke-width="0.7"/>
<line x1="510.50" y1="175.80" x2="510.50" y2="257.00" stroke="#222" stroke-width="0.8"/>
<line x1="426.75" y1="175.50" x2="426.75" y2="257.00" stroke="#111" stroke-width="1.1"/>
<line x1="426.35" y1="257.00" x2="510.90" y2="257.00" stroke="#000" stroke-width="1.5"/>
<line x1="424.55" y1="257.00" x2="426.75" y2="257.00" stroke="#000" stroke-width="0.7"/>
<text x="423.75" y="259.376" font-size="6.6" font-weight="normal" text-anchor="end" fill="#000" stroke="#000" stroke-width="0.12">0</text>
<line x1="424.55" y1="241.45" x2="426.75" y2="241.45" stroke="#000" stroke-width="0.7"/>
<text x="423.75" y="243.826" font-size="6.6" font-weight="normal" text-anchor="end" fill="#000" stroke="#000" stroke-width="0.12">20</text>
<line x1="424.55" y1="225.90" x2="426.75" y2="225.90" stroke="#000" stroke-width="0.7"/>
<text x="423.75" y="228.276" font-size="6.6" font-weight="normal" text-anchor="end" fill="#000" stroke="#000" stroke-width="0.12">40</text>
<line x1="424.55" y1="210.35" x2="426.75" y2="210.35" stroke="#000" stroke-width="0.7"/>
<text x="423.75" y="212.726" font-size="6.6" font-weight="normal" text-anchor="end" fill="#000" stroke="#000" stroke-width="0.12">60</text>
<line x1="424.55" y1="194.80" x2="426.75" y2="194.80" stroke="#000" stroke-width="0.7"/>
<text x="423.75" y="197.17600000000002" font-size="6.6" font-weight="normal" text-anchor="end" fill="#000" stroke="#000" stroke-width="0.12">80</text>
<line x1="424.55" y1="179.25" x2="426.75" y2="179.25" stroke="#000" stroke-width="0.7"/>
<text x="423.75" y="181.626" font-size="6.6" font-weight="normal" text-anchor="end" fill="#000" stroke="#000" stroke-width="0.12">100</text>
<text x="412.5" y="215.2" font-size="7.2" font-weight="normal" text-anchor="middle" fill="#000" textLength="30" lengthAdjust="spacingAndGlyphs" transform="rotate(-90 412.5 215.2)" stroke="#000" stroke-width="0.12">% of Max</text>
<text x="436.3" y="267.4" font-size="6.6" font-weight="normal" text-anchor="middle" fill="#000" stroke="#000" stroke-width="0.12">0</text>
<line x1="436.30" y1="257.00" x2="436.30" y2="258.80" stroke="#000" stroke-width="0.6"/>
<text x="445" y="267.4" font-size="6.6" text-anchor="middle" stroke="#000" stroke-width="0.12">10<tspan dy="-2.51" font-size="4.49">2</tspan></text>
<line x1="444.50" y1="257.00" x2="444.50" y2="258.80" stroke="#000" stroke-width="0.6"/>
<text x="465.4" y="267.4" font-size="6.6" text-anchor="middle" stroke="#000" stroke-width="0.12">10<tspan dy="-2.51" font-size="4.49">3</tspan></text>
<line x1="464.90" y1="257.00" x2="464.90" y2="258.80" stroke="#000" stroke-width="0.6"/>
<text x="485.4" y="267.4" font-size="6.6" text-anchor="middle" stroke="#000" stroke-width="0.12">10<tspan dy="-2.51" font-size="4.49">4</tspan></text>
<line x1="484.90" y1="257.00" x2="484.90" y2="258.80" stroke="#000" stroke-width="0.6"/>
<text x="504.4" y="267.4" font-size="6.6" text-anchor="middle" stroke="#000" stroke-width="0.12">10<tspan dy="-2.51" font-size="4.49">5</tspan></text>
<line x1="503.90" y1="257.00" x2="503.90" y2="258.80" stroke="#000" stroke-width="0.6"/>
<text x="469" y="275.6" font-size="7.6" font-weight="normal" text-anchor="middle" fill="#000" textLength="6.8" lengthAdjust="spacingAndGlyphs" stroke="#000" stroke-width="0.12">PI</text>
<rect x="308.00" y="300.75" width="6.50" height="5.60" fill="#000"/>
<rect x="314.50" y="301.10" width="6.15" height="4.90" fill="#fff" stroke="#1a1a1a" stroke-width="0.7"/>
<line x1="314.50" y1="303.55" x2="320.65" y2="303.55" stroke="#222" stroke-width="0.7"/>
<text x="325.5" y="306.45000000000005" font-size="8.4" font-weight="normal" text-anchor="start" fill="#000" textLength="34.5" lengthAdjust="spacingAndGlyphs" stroke="#000" stroke-width="0.28">Normal (-)</text>
<rect x="308.00" y="309.75" width="6.50" height="5.60" fill="#e8351f"/>
<rect x="314.50" y="310.10" width="6.15" height="4.90" fill="#fff" stroke="#1a1a1a" stroke-width="0.7"/>
<line x1="314.50" y1="312.55" x2="320.65" y2="312.55" stroke="#222" stroke-width="0.7"/>
<text x="325.5" y="315.45000000000005" font-size="8.4" font-weight="normal" text-anchor="start" fill="#000" textLength="52" lengthAdjust="spacingAndGlyphs" stroke="#000" stroke-width="0.28">Normal (+) PMA</text>
<clipPath id="c5"><rect x="303.75" y="322" width="94.25" height="91.30000000000001"/></clipPath>
<g clip-path="url(#c5)">
<polyline points="303.75,412.49 304.38,412.47 305.00,412.42 305.62,412.37 306.25,412.32 306.88,412.27 307.50,412.17 308.12,412.16 308.75,412.08 309.38,412.07 310.00,411.99 310.62,411.76 311.25,411.51 311.88,411.49 312.50,410.99 313.12,411.09 313.75,410.21 314.38,410.43 315.00,409.79 315.62,409.33 316.25,408.69 316.88,408.09 317.50,407.53 318.12,406.47 318.75,404.69 319.38,404.05 320.00,403.37 320.67,400.80 321.33,399.28 322.00,397.50 322.62,394.00 323.25,391.60 323.88,384.79 324.50,379.85 325.50,367.81 326.50,353.80 327.50,345.63 328.12,336.78 328.75,332.65 329.38,330.34 330.00,326.90 331.00,327.59 332.00,335.92 333.00,326.90 334.00,333.33 335.00,343.05 336.00,337.19 337.00,351.15 338.00,356.58 339.00,362.19 340.00,365.66 340.62,368.32 341.25,374.04 341.88,373.78 342.50,373.59 343.12,375.89 343.75,378.10 344.38,378.80 345.00,378.61 345.62,381.29 346.25,384.69 346.88,384.78 347.50,382.67 348.12,386.82 348.75,389.93 349.38,388.90 350.00,387.81 350.62,393.63 351.25,397.92 352.12,400.26 353.00,402.51 353.67,402.40 354.33,403.20 355.00,403.92 355.62,404.33 356.25,405.11 356.88,405.89 357.50,406.09 358.12,406.58 358.75,407.39 359.38,408.22 360.00,408.99 360.62,409.16 361.25,409.61 361.88,409.25 362.50,409.72 363.12,410.06 363.75,410.21 364.38,410.27 365.00,409.89 365.62,410.72 366.25,410.18 366.88,410.86 367.50,410.86 368.12,411.15 368.75,411.28 369.38,410.78 370.00,411.18 370.62,410.95 371.25,411.35 371.88,411.43 372.50,411.47 373.12,411.46 373.75,411.49 374.38,411.57 375.00,411.65 375.62,411.64 376.25,411.76 376.88,411.82 377.50,411.80 378.12,411.82 378.75,411.91 379.38,411.92 380.00,412.03 380.60,412.02 381.20,412.03 381.80,412.08 382.40,412.09 383.00,412.10 383.60,412.07 384.20,412.11 384.80,412.12 385.40,412.18 386.00,412.15 386.60,412.16 387.20,412.20 387.80,412.20 388.40,412.24 389.00,412.24 389.60,412.24 390.20,412.29 390.80,412.32 391.40,412.33 392.00,412.34 392.60,412.33 393.20,412.35 393.80,412.39 394.40,412.42 395.00,412.42 395.60,412.45 396.20,412.43 396.80,412.46 397.40,412.48 398.00,412.50" fill="none" stroke="#1c1c1c" stroke-width="0.9" stroke-linejoin="round"/>
<polyline points="303.75,412.51 304.38,412.38 305.00,412.30 305.62,412.21 306.25,412.11 306.88,411.98 307.50,411.89 308.12,411.76 308.75,411.67 309.38,411.51 310.00,411.49 310.62,411.37 311.25,411.13 311.88,410.85 312.50,410.87 313.12,409.82 313.75,409.29 314.38,409.25 315.00,408.94 315.60,408.12 316.20,406.98 316.80,406.24 317.40,405.48 318.00,405.05 318.62,403.19 319.25,401.46 319.88,400.97 320.50,399.17 321.17,398.41 321.83,397.39 322.50,396.33 323.25,393.58 324.00,389.36 324.75,383.58 325.50,379.86 326.12,375.33 326.75,370.59 327.38,364.19 328.00,359.85 328.62,364.23 329.25,366.39 329.88,363.57 330.50,358.60 331.12,362.30 331.75,362.90 332.38,356.99 333.00,357.57 333.62,360.19 334.25,358.72 334.88,358.84 335.50,354.78 336.50,345.71 337.50,328.64 338.50,332.33 339.50,345.33 340.50,345.65 341.50,338.05 342.50,333.02 343.50,332.34 344.50,331.89 345.50,329.98 346.50,333.31 347.50,340.79 348.50,345.20 349.50,349.60 350.50,363.49 351.50,375.69 352.50,383.84 353.12,387.28 353.75,391.64 354.38,396.52 355.00,398.28 355.67,399.26 356.33,400.97 357.00,400.64 357.88,402.64 358.75,405.47 359.38,405.30 360.00,406.29 360.62,406.44 361.25,407.52 361.88,407.48 362.50,406.63 363.12,406.68 363.75,406.19 364.38,406.81 365.00,407.99 365.62,408.35 366.25,408.76 366.88,409.43 367.50,409.20 368.12,409.43 368.75,410.01 369.38,410.37 370.00,410.42 370.62,410.28 371.25,410.73 371.88,410.94 372.50,410.68 373.12,410.77 373.75,410.95 374.38,411.48 375.00,411.34 375.62,411.40 376.25,411.54 376.88,411.62 377.50,411.78 378.10,411.76 378.71,411.83 379.31,411.83 379.91,411.85 380.51,411.87 381.12,411.89 381.72,411.86 382.32,411.95 382.93,411.96 383.53,411.95 384.13,411.99 384.74,412.05 385.34,412.05 385.94,412.06 386.54,412.08 387.15,412.07 387.75,412.12 388.35,412.14 388.96,412.18 389.56,412.18 390.16,412.19 390.76,412.26 391.37,412.24 391.97,412.26 392.57,412.30 393.18,412.35 393.78,412.36 394.38,412.35 394.99,412.37 395.59,412.41 396.19,412.42 396.79,412.45 397.40,412.46 398.00,412.50" fill="none" stroke="#e5543a" stroke-width="0.9" stroke-linejoin="round"/>
</g>
<line x1="303.75" y1="323.00" x2="398.00" y2="323.00" stroke="#555" stroke-width="0.7"/>
<line x1="398.00" y1="323.00" x2="398.00" y2="412.80" stroke="#222" stroke-width="0.8"/>
<line x1="303.75" y1="322.70" x2="303.75" y2="412.80" stroke="#111" stroke-width="1.5"/>
<line x1="303.35" y1="412.80" x2="398.40" y2="412.80" stroke="#000" stroke-width="1.5"/>
<line x1="301.55" y1="413.20" x2="303.75" y2="413.20" stroke="#000" stroke-width="0.7"/>
<text x="300.75" y="415.864" font-size="7.4" font-weight="normal" text-anchor="end" fill="#000" stroke="#000" stroke-width="0.28">0</text>
<line x1="301.55" y1="396.00" x2="303.75" y2="396.00" stroke="#000" stroke-width="0.7"/>
<text x="300.75" y="398.664" font-size="7.4" font-weight="normal" text-anchor="end" fill="#000" stroke="#000" stroke-width="0.28">20</text>
<line x1="301.55" y1="378.80" x2="303.75" y2="378.80" stroke="#000" stroke-width="0.7"/>
<text x="300.75" y="381.464" font-size="7.4" font-weight="normal" text-anchor="end" fill="#000" stroke="#000" stroke-width="0.28">40</text>
<line x1="301.55" y1="361.60" x2="303.75" y2="361.60" stroke="#000" stroke-width="0.7"/>
<text x="300.75" y="364.264" font-size="7.4" font-weight="normal" text-anchor="end" fill="#000" stroke="#000" stroke-width="0.28">60</text>
<line x1="301.55" y1="344.40" x2="303.75" y2="344.40" stroke="#000" stroke-width="0.7"/>
<text x="300.75" y="347.06399999999996" font-size="7.4" font-weight="normal" text-anchor="end" fill="#000" stroke="#000" stroke-width="0.28">80</text>
<line x1="301.55" y1="327.20" x2="303.75" y2="327.20" stroke="#000" stroke-width="0.7"/>
<text x="300.75" y="329.864" font-size="7.4" font-weight="normal" text-anchor="end" fill="#000" stroke="#000" stroke-width="0.28">100</text>
<text x="287.3" y="368" font-size="8.2" font-weight="normal" text-anchor="middle" fill="#000" textLength="33.3" lengthAdjust="spacingAndGlyphs" transform="rotate(-90 287.3 368)" stroke="#000" stroke-width="0.28">% of Max</text>
<text x="314.5" y="422.6" font-size="7.4" font-weight="normal" text-anchor="middle" fill="#000" stroke="#000" stroke-width="0.28">0</text>
<line x1="314.50" y1="412.80" x2="314.50" y2="414.60" stroke="#000" stroke-width="0.6"/>
<text x="324.5" y="422.6" font-size="7.4" text-anchor="middle" stroke="#000" stroke-width="0.28">10<tspan dy="-2.81" font-size="5.03">2</tspan></text>
<line x1="324.00" y1="412.80" x2="324.00" y2="414.60" stroke="#000" stroke-width="0.6"/>
<text x="346.5" y="422.6" font-size="7.4" text-anchor="middle" stroke="#000" stroke-width="0.28">10<tspan dy="-2.81" font-size="5.03">3</tspan></text>
<line x1="346.00" y1="412.80" x2="346.00" y2="414.60" stroke="#000" stroke-width="0.6"/>
<text x="369" y="422.6" font-size="7.4" text-anchor="middle" stroke="#000" stroke-width="0.28">10<tspan dy="-2.81" font-size="5.03">4</tspan></text>
<line x1="368.50" y1="412.80" x2="368.50" y2="414.60" stroke="#000" stroke-width="0.6"/>
<text x="391" y="422.6" font-size="7.4" text-anchor="middle" stroke="#000" stroke-width="0.28">10<tspan dy="-2.81" font-size="5.03">5</tspan></text>
<line x1="390.50" y1="412.80" x2="390.50" y2="414.60" stroke="#000" stroke-width="0.6"/>
<text x="350.4" y="432" font-size="8.6" font-weight="normal" text-anchor="middle" fill="#000" textLength="83.3" lengthAdjust="spacingAndGlyphs" stroke="#000" stroke-width="0.28">FITC-active caspase3</text>
<rect x="431.25" y="301.25" width="6.70" height="5.80" fill="#000"/>
<rect x="437.95" y="301.60" width="6.35" height="5.10" fill="#fff" stroke="#1a1a1a" stroke-width="0.7"/>
<line x1="437.95" y1="304.15" x2="444.30" y2="304.15" stroke="#222" stroke-width="0.7"/>
<text x="448.75" y="307.15000000000003" font-size="8.4" font-weight="normal" text-anchor="start" fill="#000" textLength="33.8" lengthAdjust="spacingAndGlyphs" stroke="#000" stroke-width="0.28">Patient (-)</text>
<rect x="431.25" y="310.25" width="6.70" height="5.80" fill="#e8351f"/>
<rect x="437.95" y="310.60" width="6.35" height="5.10" fill="#fff" stroke="#1a1a1a" stroke-width="0.7"/>
<line x1="437.95" y1="313.15" x2="444.30" y2="313.15" stroke="#222" stroke-width="0.7"/>
<text x="448.75" y="316.15000000000003" font-size="8.4" font-weight="normal" text-anchor="start" fill="#000" textLength="52.5" lengthAdjust="spacingAndGlyphs" stroke="#000" stroke-width="0.28">Patient (+) PMA</text>
<clipPath id="c6"><rect x="428" y="322" width="91.29999999999995" height="91.30000000000001"/></clipPath>
<g clip-path="url(#c6)">
<polyline points="428.00,412.48 428.64,412.44 429.27,412.35 429.91,412.29 430.55,412.24 431.18,412.18 431.82,412.09 432.45,412.02 433.09,411.91 433.73,411.88 434.36,411.80 435.00,411.79 435.62,411.47 436.25,411.17 436.88,411.05 437.50,410.57 438.12,410.19 438.75,410.19 439.38,409.11 440.00,408.08 440.62,406.60 441.25,406.81 441.88,404.78 442.50,402.87 443.12,402.06 443.75,400.73 444.62,395.60 445.50,393.42 446.25,388.32 447.00,385.38 447.62,382.66 448.25,375.82 448.88,371.70 449.50,368.35 450.12,362.52 450.75,357.66 451.38,355.67 452.00,344.53 452.62,344.23 453.25,336.72 453.88,338.01 454.50,336.15 455.50,329.04 456.50,333.32 457.50,348.34 458.50,337.16 459.50,348.93 460.50,354.94 461.50,361.26 462.50,360.30 463.50,367.06 464.50,369.61 465.50,365.27 466.50,371.99 467.50,370.43 468.50,370.21 469.50,374.21 470.50,379.23 471.50,386.83 472.50,395.73 473.50,394.43 474.50,395.53 475.50,398.23 476.25,401.09 477.00,402.15 477.88,403.31 478.75,405.10 479.38,406.09 480.00,406.39 480.62,406.08 481.25,406.93 481.88,407.13 482.50,407.45 483.12,407.66 483.75,407.83 484.38,408.21 485.00,408.64 485.62,408.78 486.25,408.71 486.88,409.14 487.50,409.13 488.12,409.35 488.75,409.75 489.38,409.93 490.00,410.05 490.62,410.08 491.25,410.59 491.88,410.57 492.50,410.78 493.12,410.84 493.75,410.75 494.38,411.27 495.00,411.38 495.62,410.94 496.25,411.40 496.88,411.42 497.50,411.50 498.12,411.54 498.75,411.49 499.38,411.64 500.00,411.64 500.62,411.70 501.25,411.72 501.88,411.74 502.50,411.81 503.12,411.86 503.75,411.89 504.38,411.94 505.00,411.99 505.60,412.00 506.21,412.01 506.81,412.09 507.42,412.07 508.02,412.09 508.62,412.15 509.23,412.16 509.83,412.16 510.44,412.17 511.04,412.23 511.65,412.21 512.25,412.25 512.85,412.26 513.46,412.32 514.06,412.30 514.67,412.34 515.27,412.36 515.88,412.35 516.48,412.38 517.08,412.43 517.69,412.45 518.29,412.45 518.90,412.47 519.50,412.50" fill="none" stroke="#1c1c1c" stroke-width="0.9" stroke-linejoin="round"/>
<polyline points="428.00,412.50 428.65,412.45 429.30,412.42 429.95,412.33 430.60,412.28 431.25,412.22 431.90,412.17 432.55,412.11 433.20,412.07 433.85,412.05 434.50,412.04 435.11,411.67 435.71,411.20 436.32,410.85 436.93,410.71 437.54,409.98 438.14,409.43 438.75,409.39 439.38,408.76 440.00,406.89 440.62,406.40 441.25,404.56 441.88,402.54 442.50,401.69 443.12,398.96 443.75,398.03 444.62,393.95 445.50,390.92 446.25,386.54 447.00,381.58 447.62,379.98 448.25,374.58 448.88,370.08 449.50,360.41 450.12,353.41 450.75,351.04 451.38,347.41 452.00,334.74 453.00,330.05 454.00,340.55 455.00,332.85 456.00,330.86 457.00,340.12 458.00,339.16 459.00,341.01 460.00,348.08 461.00,356.26 462.00,367.92 463.00,367.02 464.00,351.36 465.00,358.32 466.00,370.31 467.00,369.27 468.00,371.04 469.00,368.99 470.00,375.51 471.00,380.90 472.00,391.22 473.00,395.43 474.00,395.58 475.00,397.08 475.75,399.62 476.50,401.52 477.17,402.18 477.83,403.18 478.50,404.23 479.12,405.00 479.75,405.11 480.38,406.09 481.00,406.25 481.67,407.12 482.33,407.19 483.00,407.88 483.67,407.92 484.33,408.57 485.00,408.55 485.62,408.70 486.25,408.63 486.88,409.01 487.50,408.88 488.12,408.98 488.75,409.42 489.38,409.91 490.00,409.68 490.62,410.34 491.25,410.43 491.88,410.39 492.50,410.56 493.12,410.36 493.75,410.55 494.38,410.48 495.00,411.26 495.62,410.90 496.25,411.42 496.88,411.48 497.50,411.05 498.12,411.26 498.75,411.34 499.38,411.42 500.00,411.54 500.62,411.58 501.25,411.58 501.88,411.65 502.50,411.74 503.12,411.85 503.75,411.87 504.38,411.96 505.00,412.02 505.60,412.05 506.21,412.04 506.81,412.05 507.42,412.08 508.02,412.13 508.62,412.11 509.23,412.12 509.83,412.19 510.44,412.19 511.04,412.22 511.65,412.21 512.25,412.22 512.85,412.25 513.46,412.29 514.06,412.29 514.67,412.32 515.27,412.38 515.88,412.37 516.48,412.37 517.08,412.43 517.69,412.43 518.29,412.45 518.90,412.48 519.50,412.50" fill="none" stroke="#e5543a" stroke-width="0.9" stroke-linejoin="round"/>
</g>
<line x1="428.00" y1="323.00" x2="519.30" y2="323.00" stroke="#555" stroke-width="0.7"/>
<line x1="519.30" y1="323.00" x2="519.30" y2="412.80" stroke="#222" stroke-width="0.8"/>
<line x1="428.00" y1="322.70" x2="428.00" y2="412.80" stroke="#111" stroke-width="1.5"/>
<line x1="427.60" y1="412.80" x2="519.70" y2="412.80" stroke="#000" stroke-width="1.5"/>
<line x1="425.80" y1="413.20" x2="428.00" y2="413.20" stroke="#000" stroke-width="0.7"/>
<text x="425" y="415.864" font-size="7.4" font-weight="normal" text-anchor="end" fill="#000" stroke="#000" stroke-width="0.28">0</text>
<line x1="425.80" y1="396.04" x2="428.00" y2="396.04" stroke="#000" stroke-width="0.7"/>
<text x="425" y="398.70399999999995" font-size="7.4" font-weight="normal" text-anchor="end" fill="#000" stroke="#000" stroke-width="0.28">20</text>
<line x1="425.80" y1="378.88" x2="428.00" y2="378.88" stroke="#000" stroke-width="0.7"/>
<text x="425" y="381.544" font-size="7.4" font-weight="normal" text-anchor="end" fill="#000" stroke="#000" stroke-width="0.28">40</text>
<line x1="425.80" y1="361.72" x2="428.00" y2="361.72" stroke="#000" stroke-width="0.7"/>
<text x="425" y="364.38399999999996" font-size="7.4" font-weight="normal" text-anchor="end" fill="#000" stroke="#000" stroke-width="0.28">60</text>
<line x1="425.80" y1="344.56" x2="428.00" y2="344.56" stroke="#000" stroke-width="0.7"/>
<text x="425" y="347.22399999999993" font-size="7.4" font-weight="normal" text-anchor="end" fill="#000" stroke="#000" stroke-width="0.28">80</text>
<line x1="425.80" y1="327.40" x2="428.00" y2="327.40" stroke="#000" stroke-width="0.7"/>
<text x="425" y="330.06399999999996" font-size="7.4" font-weight="normal" text-anchor="end" fill="#000" stroke="#000" stroke-width="0.28">100</text>
<text x="412.8" y="367.6" font-size="8.2" font-weight="normal" text-anchor="middle" fill="#000" textLength="35" lengthAdjust="spacingAndGlyphs" transform="rotate(-90 412.8 367.6)" stroke="#000" stroke-width="0.28">% of Max</text>
<text x="438.8" y="422.6" font-size="7.4" font-weight="normal" text-anchor="middle" fill="#000" stroke="#000" stroke-width="0.28">0</text>
<line x1="438.80" y1="412.80" x2="438.80" y2="414.60" stroke="#000" stroke-width="0.6"/>
<text x="448.5" y="422.6" font-size="7.4" text-anchor="middle" stroke="#000" stroke-width="0.28">10<tspan dy="-2.81" font-size="5.03">2</tspan></text>
<line x1="448.00" y1="412.80" x2="448.00" y2="414.60" stroke="#000" stroke-width="0.6"/>
<text x="470.5" y="422.6" font-size="7.4" text-anchor="middle" stroke="#000" stroke-width="0.28">10<tspan dy="-2.81" font-size="5.03">3</tspan></text>
<line x1="470.00" y1="412.80" x2="470.00" y2="414.60" stroke="#000" stroke-width="0.6"/>
<text x="491.8" y="422.6" font-size="7.4" text-anchor="middle" stroke="#000" stroke-width="0.28">10<tspan dy="-2.81" font-size="5.03">4</tspan></text>
<line x1="491.30" y1="412.80" x2="491.30" y2="414.60" stroke="#000" stroke-width="0.6"/>
<text x="511.5" y="422.6" font-size="7.4" text-anchor="middle" stroke="#000" stroke-width="0.28">10<tspan dy="-2.81" font-size="5.03">5</tspan></text>
<line x1="511.00" y1="412.80" x2="511.00" y2="414.60" stroke="#000" stroke-width="0.6"/>
<text x="473.4" y="432" font-size="8.6" font-weight="normal" text-anchor="middle" fill="#000" textLength="80.8" lengthAdjust="spacingAndGlyphs" stroke="#000" stroke-width="0.28">FITC-active caspase3</text>
<line x1="519.20" y1="323.00" x2="519.20" y2="413.00" stroke="#000" stroke-width="2.0"/>
<text x="105" y="485.5" font-size="12" font-weight="normal" text-anchor="start" fill="#000" textLength="112.5" lengthAdjust="spacingAndGlyphs" stroke="#000" stroke-width="0.3">Patient's EBV-B cells</text>
<text x="146" y="537.3" font-size="12" font-weight="normal" text-anchor="start" fill="#000" textLength="38.6" lengthAdjust="spacingAndGlyphs" transform="rotate(-90 146 537.3)" stroke="#000" stroke-width="0.3">Control</text>
<text x="179.8" y="536.8" font-size="12" font-weight="normal" text-anchor="start" fill="#000" textLength="31" lengthAdjust="spacingAndGlyphs" transform="rotate(-90 179.8 536.8)" stroke="#000" stroke-width="0.3">PKC&#948;</text>
<text x="52.5" y="569.6" font-size="12" font-weight="normal" text-anchor="start" fill="#000" textLength="57.5" lengthAdjust="spacingAndGlyphs" stroke="#000" stroke-width="0.3">WB: PKC&#948;</text>
<text x="50.8" y="620" font-size="12" font-weight="normal" text-anchor="start" fill="#000" textLength="61.2" lengthAdjust="spacingAndGlyphs" stroke="#000" stroke-width="0.3">WB: &#946;-actin</text>
<defs><filter id="bl" filterUnits="userSpaceOnUse" x="110" y="545" width="100" height="100"><feGaussianBlur stdDeviation="0.8"/></filter><filter id="bl2" filterUnits="userSpaceOnUse" x="110" y="545" width="100" height="100"><feGaussianBlur stdDeviation="0.95"/></filter></defs>
<rect x="119.95" y="551.75" width="80.40" height="35.30" fill="#e8e4df"/>
<rect x="120.20" y="596.90" width="80.40" height="37.30" fill="#e8e4df"/>
<clipPath id="cb1"><rect x="119.95" y="551.75" width="80.4" height="35.3"/></clipPath><clipPath id="cb2"><rect x="120.2" y="596.9" width="80.4" height="37.3"/></clipPath>
<g clip-path="url(#cb1)">
<path d="M120 565.6 C128 566.4 134 567.6 140 568.8 C144 569.8 147 570 148.8 568.8 L150 567.6" fill="none" stroke="#8e7d74" stroke-width="2.2" filter="url(#bl2)" stroke-linecap="round"/>
<path d="M149 568.6 C150 565.4 152.5 562.6 156 562.2 C163 561.8 170 562.6 176 562.5 C181 562.3 186 561.9 188.6 562.8 C191 564 191 569.6 188.8 571.2 C185 572.2 179 572 173 572.6 C167 573.2 161 572.6 157.5 571 C154 569.4 151.5 568.4 149 568.6 Z" fill="#6e2610" filter="url(#bl)" transform="translate(0 567.4) scale(1 1.1) translate(0 -567.4)"/>
</g>
<g clip-path="url(#cb2)">
<path d="M118.5 610.8 C126 609.6 134 609.4 140 610.4 C145 611.6 149 611.8 153 610.6 C158 609.2 164 609.4 169 610.6 C175 611.8 181 610.4 186 609.8 C191 609.6 194.2 612.5 194.2 616 C194.2 619.8 191 622.6 186 622.2 C181 621.8 175 622.4 169 622 C163 622.2 158 621.4 153 619.6 C149 621.4 145 622.6 140 622.8 C134 623.2 126 622.8 118.5 622.2 Z" fill="#6e2610" filter="url(#bl)" transform="translate(0 616.3) scale(1 1.08) translate(0 -616.3)"/>
<path d="M164 616.2 C168.5 614.5 174.5 614.2 179.5 615.3 C174.5 617.1 169 617.5 164 616.2 Z" fill="#ecd8c8" filter="url(#bl)"/>
</g>
<rect x="119.95" y="551.75" width="80.40" height="35.30" fill="none" stroke="#030303" stroke-width="2.0"/>
<rect x="120.20" y="596.90" width="80.40" height="37.30" fill="none" stroke="#030303" stroke-width="2.0"/>
<text x="334" y="495" font-size="10.4" font-weight="normal" text-anchor="start" fill="#000" textLength="97" lengthAdjust="spacingAndGlyphs" stroke="#000" stroke-width="0.2">Patient's EBV-B cells</text>
<rect x="336.25" y="523.75" width="23.75" height="92.50" fill="#000"/>
<rect x="370.00" y="525.25" width="23.30" height="91.00" fill="#000"/>
<line x1="381.65" y1="522.50" x2="381.65" y2="525.25" stroke="#000" stroke-width="1.6"/>
<line x1="376.00" y1="522.50" x2="388.00" y2="522.50" stroke="#000" stroke-width="1.6"/>
<rect x="436.25" y="526.50" width="23.75" height="89.75" fill="#000"/>
<line x1="448.12" y1="524.50" x2="448.12" y2="526.50" stroke="#000" stroke-width="1.6"/>
<line x1="441.50" y1="524.50" x2="454.50" y2="524.50" stroke="#000" stroke-width="1.6"/>
<rect x="470.00" y="550.00" width="23.30" height="66.25" fill="#000"/>
<line x1="481.65" y1="547.50" x2="481.65" y2="550.00" stroke="#000" stroke-width="1.6"/>
<line x1="476.00" y1="547.50" x2="488.50" y2="547.50" stroke="#000" stroke-width="1.6"/>
<line x1="331.25" y1="505.03" x2="331.25" y2="617.25" stroke="#000" stroke-width="2"/>
<line x1="327.00" y1="616.25" x2="498.80" y2="616.25" stroke="#000" stroke-width="2"/>
<line x1="327.00" y1="597.83" x2="331.25" y2="597.83" stroke="#000" stroke-width="1.4"/>
<line x1="327.00" y1="579.41" x2="331.25" y2="579.41" stroke="#000" stroke-width="1.4"/>
<line x1="327.00" y1="560.99" x2="331.25" y2="560.99" stroke="#000" stroke-width="1.4"/>
<line x1="327.00" y1="542.57" x2="331.25" y2="542.57" stroke="#000" stroke-width="1.4"/>
<line x1="327.00" y1="524.15" x2="331.25" y2="524.15" stroke="#000" stroke-width="1.4"/>
<line x1="327.00" y1="505.73" x2="331.25" y2="505.73" stroke="#000" stroke-width="1.4"/>
<text x="328.0" y="619.062" font-size="9.2" font-weight="bold" text-anchor="end" fill="#000" stroke="#000" stroke-width="0.2">0</text>
<text x="328.0" y="600.642" font-size="9.2" font-weight="bold" text-anchor="end" fill="#000" stroke="#000" stroke-width="0.2">20</text>
<text x="328.0" y="582.222" font-size="9.2" font-weight="bold" text-anchor="end" fill="#000" stroke="#000" stroke-width="0.2">40</text>
<text x="328.0" y="563.802" font-size="9.2" font-weight="bold" text-anchor="end" fill="#000" stroke="#000" stroke-width="0.2">60</text>
<text x="328.0" y="545.382" font-size="9.2" font-weight="bold" text-anchor="end" fill="#000" stroke="#000" stroke-width="0.2">80</text>
<text x="328.0" y="526.962" font-size="9.2" font-weight="bold" text-anchor="end" fill="#000" stroke="#000" stroke-width="0.2">100</text>
<text x="328.0" y="508.54200000000003" font-size="9.2" font-weight="bold" text-anchor="end" fill="#000" stroke="#000" stroke-width="0.2">120</text>
<path d="M482.50 541.60L482.50 539.00M482.50 541.60L484.97 540.80M482.50 541.60L484.03 543.70M482.50 541.60L480.97 543.70M482.50 541.60L480.03 540.80" stroke="#000" stroke-width="1.1" fill="none"/>
<text x="305.2" y="560.3" font-size="14" font-weight="normal" text-anchor="middle" fill="#000" textLength="77" lengthAdjust="spacingAndGlyphs" transform="rotate(-90 305.2 560.3)" stroke="#000" stroke-width="0.3">Live cell (%)</text>
<text x="348.1" y="633.4" font-size="10.4" font-weight="normal" text-anchor="middle" fill="#000" textLength="11.2" lengthAdjust="spacingAndGlyphs" stroke="#000" stroke-width="0.2">(-)</text>
<text x="381.3" y="633.4" font-size="10.4" font-weight="normal" text-anchor="middle" fill="#000" textLength="22.5" lengthAdjust="spacingAndGlyphs" stroke="#000" stroke-width="0.2">PMA</text>
<text x="448" y="633.4" font-size="10.4" font-weight="normal" text-anchor="middle" fill="#000" textLength="10.5" lengthAdjust="spacingAndGlyphs" stroke="#000" stroke-width="0.2">(-)</text>
<text x="481.3" y="633.4" font-size="10.4" font-weight="normal" text-anchor="middle" fill="#000" textLength="22.5" lengthAdjust="spacingAndGlyphs" stroke="#000" stroke-width="0.2">PMA</text>
<line x1="333.75" y1="639.30" x2="394.50" y2="639.30" stroke="#000" stroke-width="1.5"/>
<line x1="436.25" y1="639.60" x2="497.50" y2="639.60" stroke="#000" stroke-width="1.5"/>
<text x="367.5" y="654" font-size="10.4" font-weight="normal" text-anchor="middle" fill="#000" textLength="32.5" lengthAdjust="spacingAndGlyphs" stroke="#000" stroke-width="0.2">Control</text>
<text x="472.5" y="654.4" font-size="10.4" font-weight="normal" text-anchor="middle" fill="#000" textLength="27.5" lengthAdjust="spacingAndGlyphs" stroke="#000" stroke-width="0.2">PKC&#948;</text>
</svg>
</body></html>
